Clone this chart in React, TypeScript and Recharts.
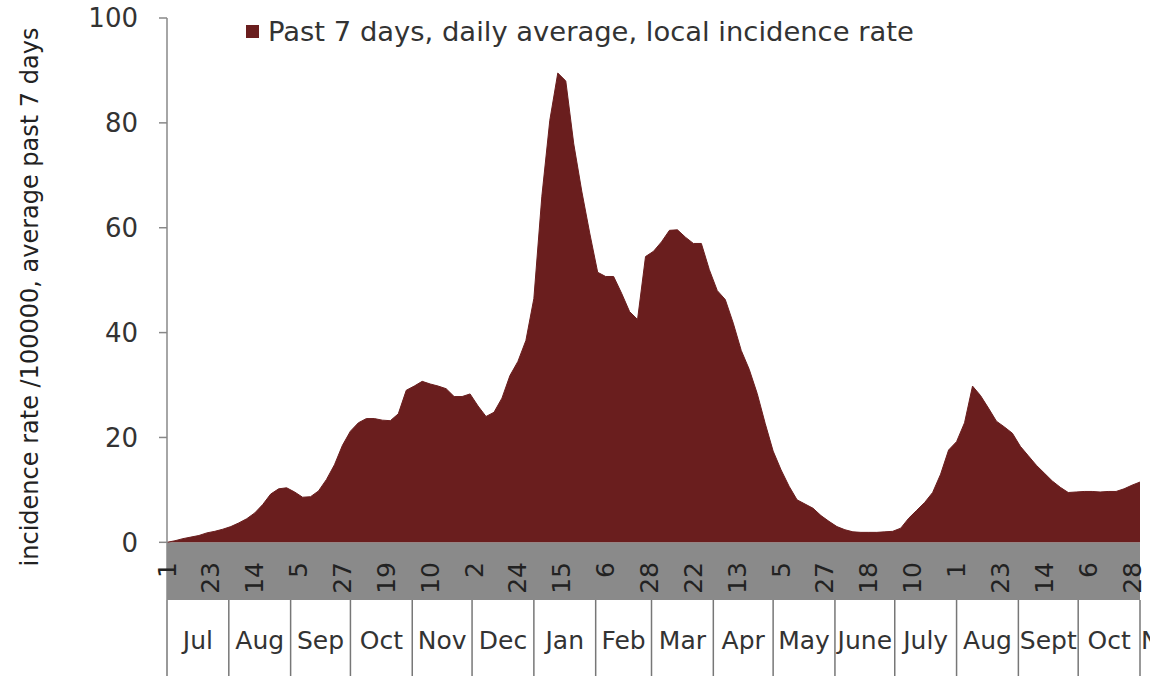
import { AreaChart, Area, XAxis, YAxis, ReferenceArea, Legend } from "recharts";

// one value every 4 days, starting 1 July 2020
const STEP_DAYS = 4;
const incidence = [
  0, 0.3, 0.7, 1.0, 1.3, 1.8, 2.1, 2.5, 3.0, 3.7, 4.5, 5.6, 7.2, 9.2, 10.2, 10.4,
  9.6, 8.6, 8.7, 9.8, 12, 14.8, 18.5, 21.2, 22.8, 23.6, 23.6, 23.3, 23.2, 24.5, 29, 29.8,
  30.7, 30.2, 29.8, 29.3, 27.8, 27.8, 28.3, 26, 24, 24.8, 27.5, 31.8, 34.5, 38.5, 46.5, 66,
  80.5, 89.5, 88, 76, 67, 59, 51.5, 50.7, 50.7, 47.5, 44, 42.5, 54.5, 55.5, 57.3, 59.5,
  59.6, 58.2, 57, 57, 52, 48, 46.3, 41.8, 36.6, 33, 28.4, 22.7, 17.4, 13.8, 10.7, 8.1,
  7.3, 6.5, 5.1, 4, 3, 2.4, 2, 1.9, 1.9, 1.9, 2.0, 2.1, 2.7, 4.6, 6.1, 7.6,
  9.5, 13, 17.6, 19.2, 22.8, 29.8, 28, 25.6, 23.1, 22, 20.8, 18.3, 16.5, 14.7, 13.2, 11.7,
  10.5, 9.5, 9.6, 9.7, 9.7, 9.6, 9.7, 9.7, 10.2, 10.9, 11.5,
];

// day offsets (from 1 Jul 2020) of the rotated day labels in the grey band
const dayTicks = [0, 22, 44, 66, 88, 110, 132, 154, 176, 198, 220, 242, 264, 286, 308, 330, 352, 374, 396, 418, 440, 462, 484];
const dayLabels = ["1", "23", "14", "5", "27", "19", "10", "2", "24", "15", "6", "28", "22", "13", "5", "27", "18", "10", "1", "23", "14", "6", "28"];

const monthStarts = [0, 31, 62, 92, 123, 153, 184, 215, 243, 274, 304, 335, 365, 396, 427, 457, 488];
const monthLabels = ["Jul", "Aug", "Sep", "Oct", "Nov", "Dec", "Jan", "Feb", "Mar", "Apr", "May", "June", "July", "Aug", "Sept", "Oct", "Nov"];

const yTicks = [0, 20, 40, 60, 80, 100];

const LAST_DAY = 488;
const FILL = "#6a1e1e";
const BAND = "#8a8a8a";
const TEXT = "#333";
const FONT = "'DejaVu Sans', 'Open Sans', sans-serif";

const data = incidence.map((v, i) => ({ day: i * STEP_DAYS, value: v }));
const monthMids = monthStarts.slice(0, -1).map((s, i) => (s + monthStarts[i + 1]) / 2);

const DayTick = (props: any) => {
  const { x, y, payload } = props;
  const label = dayLabels[dayTicks.indexOf(payload.value)];
  const ty = y - 38;
  return (
    <text
      x={x}
      y={ty}
      transform={`rotate(-90 ${x} ${ty})`}
      textAnchor="end"
      dominantBaseline="central"
      fontSize={25}
      fontFamily={FONT}
      fill="#222"
    >
      {label}
    </text>
  );
};

const MonthTick = (props: any) => {
  const { x, y, payload } = props;
  const si = monthStarts.indexOf(payload.value);
  if (si >= 0) {
    const last = si === monthStarts.length - 1;
    return (
      <g>
        <line x1={x} x2={x} y1={y - 1} y2={y + 75} stroke="#777" strokeWidth={1.5} />
        {last && (
          <text x={x + 1} y={y + 39} dominantBaseline="central" fontSize={25} fontFamily={FONT} fill={TEXT}>
            {monthLabels[si]}
          </text>
        )}
      </g>
    );
  }
  const mi = monthMids.indexOf(payload.value);
  return (
    <text x={x} y={y + 39} textAnchor="middle" dominantBaseline="central" fontSize={25} fontFamily={FONT} fill={TEXT}>
      {monthLabels[mi]}
    </text>
  );
};

const YTitle = (props: any) => {
  const vb = props.viewBox || { x: 0, y: 18, height: 582 };
  const cx = vb.x + 30;
  const cy = vb.y + vb.height / 2 - 12;
  return (
    <text
      x={cx}
      y={cy}
      transform={`rotate(-90 ${cx} ${cy})`}
      textAnchor="middle"
      dominantBaseline="central"
      fontSize={24}
      fontFamily={FONT}
      fill="#222"
    >
      incidence rate /100000, average past 7 days
    </text>
  );
};

const LegendBox = (props: any) => {
  const item = props.payload && props.payload[0];
  return (
    <div style={{ display: "flex", alignItems: "center", fontFamily: FONT, fontSize: 27.4, color: TEXT, whiteSpace: "nowrap" }}>
      <span style={{ display: "inline-block", width: 13, height: 13, background: FILL, marginRight: 9 }} />
      <span>{item ? item.value : ""}</span>
    </div>
  );
};

export default function App() {
  return (
    <div style={{ position: "absolute", left: 0, top: 0, background: "#fff" }}>
      <AreaChart width={1150} height={678} data={data} margin={{ top: 18, right: 10, bottom: 0, left: 0 }}>
        <ReferenceArea xAxisId="day" x1={0} x2={LAST_DAY} y1={-11} y2={0} fill={BAND} fillOpacity={1} stroke="none" />
        <Area
          xAxisId="day"
          type="linear"
          dataKey="value"
          name="Past 7 days, daily average, local incidence rate"
          stroke={FILL}
          strokeWidth={1}
          fill={FILL}
          fillOpacity={1}
          baseValue={0}
          dot={false}
          activeDot={false}
          isAnimationActive={false}
        />
        <XAxis
          xAxisId="day"
          dataKey="day"
          type="number"
          domain={[0, LAST_DAY]}
          ticks={dayTicks}
          interval={0}
          height={1}
          axisLine={false}
          tickLine={false}
          tickSize={0}
          tickMargin={0}
          tick={DayTick}
        />
        <XAxis
          xAxisId="month"
          dataKey="day"
          type="number"
          domain={[0, LAST_DAY]}
          ticks={[...monthStarts, ...monthMids]}
          interval={0}
          height={77}
          axisLine={false}
          tickLine={false}
          tickSize={0}
          tickMargin={0}
          tick={MonthTick}
        />
        <YAxis
          type="number"
          domain={[-11, 100]}
          ticks={yTicks}
          interval={0}
          width={167}
          axisLine={{ stroke: "#888", strokeWidth: 1.5 }}
          tickLine={{ stroke: "#888", strokeWidth: 1.5 }}
          tickSize={8}
          tickMargin={21}
          tick={{ fontSize: 26, fontFamily: FONT, fill: TEXT }}
          label={YTitle}
          allowDataOverflow
        />
        <Legend
          layout="vertical"
          align="center"
          verticalAlign="middle"
          wrapperStyle={{ top: 16, left: 246, width: 780 }}
          content={LegendBox}
        />
      </AreaChart>
    </div>
  );
}
